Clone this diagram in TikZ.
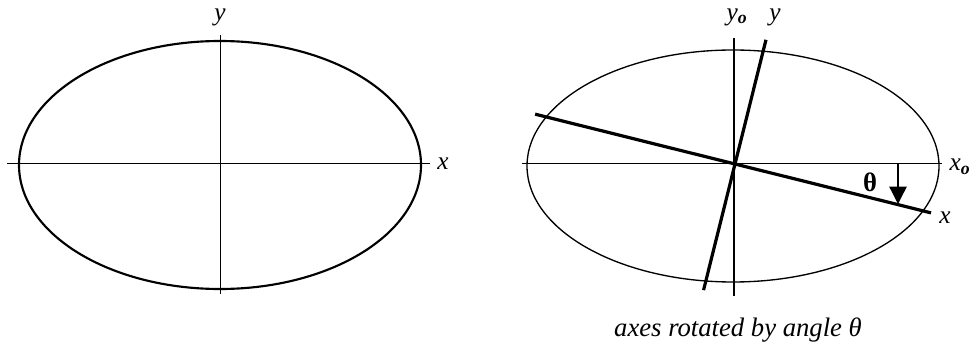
\documentclass[tikz,border=0pt]{standalone}
\usepackage{fontspec}
\setmainfont{Liberation Serif}
\usetikzlibrary{arrows.meta,positioning,calc}

\tikzset{
	thinaxis/.style={line width=0.75pt},
	boldaxis/.style={line width=2.4pt},
	lbl/.style={font=\fontsize{19}{22}\selectfont\itshape, inner sep=0.75pt},
}

\begin{document}
\begin{tikzpicture}[x=0.75pt,y=0.75pt,yscale=-1,xscale=1]
	\useasboundingbox (0,0) rectangle (973,345);
	
	%Shape: Ellipse [left]
	\coordinate (lc) at (220,165);
	\draw [line width=1.6pt] (lc) ellipse (201 and 124);
	%Shape: Axis 2D [left]
	\draw [thinaxis] (7,164) -- (430,164);
	\draw [thinaxis] (220,35) -- (220,294);
	
	%Shape: Ellipse [right]
	\coordinate (rc) at (735,164);
	\draw [line width=1pt] (733,166) ellipse (206 and 116);
	%Straight Lines [fixed axes]
	\draw [thinaxis] (522,164) -- (942,164);
	\draw [line width=1.5pt] (734,38) -- (734,296);
	%Straight Lines [rotated axes]
	\draw [boldaxis] ($(rc)+(194:206)$) -- ($(rc)+(14:202)$);
	\draw [boldaxis] ($(rc)+(284:128)$) -- ($(rc)+(104:130)$);
	%Straight Lines [angle arrow]
	\coordinate (thetatop) at (898,164);
	\coordinate (thetatip) at (898,204);
	\draw [line width=1pt, -{Triangle[length=13pt, width=13pt]}] (thetatop) -- (thetatip);
	
	% Text Node
	\node [lbl] (ylbl) at (220,17) {y};
	% Text Node
	\node [lbl] (xlbl) at (443,164) {x};
	% Text Node
	\node [lbl] (yolbl) at (737,17) {y\textsubscript{\bfseries o}};
	% Text Node
	\node [lbl] (yrlbl) at (775,17) {y};
	% Text Node
	\node [lbl] (xolbl) at (960,167) {x\textsubscript{\bfseries o}};
	% Text Node
	\node [lbl] (xrlbl) at (945,218) {x};
	% Text Node
	\node [font=\fontsize{20}{22}\selectfont\bfseries, inner sep=0.75pt] (theta) at (870,182) {θ};
	% Text Node
	\node [lbl, font=\fontsize{20}{22}\selectfont\itshape] (caption) at (738,330) {axes rotated by angle θ};
	
\end{tikzpicture}
\end{document}
